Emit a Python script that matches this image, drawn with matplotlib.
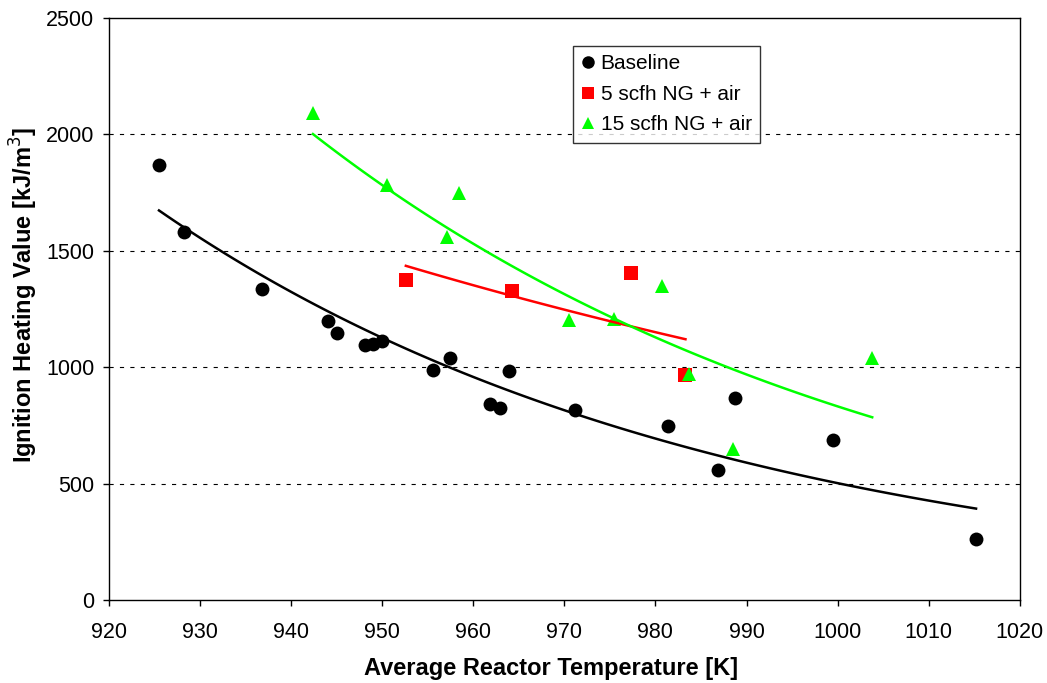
import numpy as np
import matplotlib
matplotlib.use('Agg')
import matplotlib.pyplot as plt

plt.rcParams['font.family'] = ['Liberation Sans', 'DejaVu Sans']
plt.rcParams['lines.scale_dashes'] = False

# Baseline runs
base_T = [925.5, 928.3, 936.8, 944.0, 945.0, 948.1, 949.0, 950.0, 955.6, 957.4,
          961.8, 962.9, 963.9, 971.2, 981.4, 986.9, 988.7, 999.5, 1015.2]
base_H = [1867, 1579, 1335, 1197, 1146, 1094, 1099, 1113, 990, 1040,
          840, 823, 986, 815, 748, 558, 867, 687, 262]

# 5 scfh natural gas + air
ng5_T = [952.6, 964.3, 977.3, 983.3]
ng5_H = [1373, 1328, 1403, 966]

# 15 scfh natural gas + air
ng15_T = [942.4, 950.5, 958.4, 957.1, 970.5, 975.4, 980.7, 983.7, 988.5, 1003.8]
ng15_H = [2093, 1781, 1750, 1559, 1202, 1209, 1348, 969, 648, 1040]


def exp_trend(T, H, n=100):
    # exponential trendline, least squares on log(H)
    T = np.asarray(T, float)
    b, ln_a = np.polyfit(T, np.log(H), 1)
    xs = np.linspace(T.min(), T.max(), n)
    return xs, np.exp(ln_a + b * xs)


fig = plt.figure(figsize=(10.47, 6.83), dpi=100)
ax = fig.add_axes([0.104, 0.1215, 0.870, 0.852])

series = [
    (base_T, base_H, 'o', 'black', 'Baseline'),
    (ng5_T, ng5_H, 's', '#ff0000', '5 scfh NG + air'),
    (ng15_T, ng15_H, '^', '#00ff00', '15 scfh NG + air'),
]

for T, H, mk, col, lab in series:
    ax.plot(T, H, linestyle='none', marker=mk, ms=10, color=col,
            markeredgewidth=0, label=lab, zorder=3)

for T, H, mk, col, lab in series:
    xs, ys = exp_trend(T, H)
    ax.plot(xs, ys, color=col, lw=1.8, zorder=4)

ax.set_xlim(920, 1020)
ax.set_ylim(0, 2500)
ax.set_xticks(np.arange(920, 1021, 10))
ax.set_yticks(np.arange(0, 2501, 500))

for yv in [500, 1000, 1500, 2000]:
    ax.axhline(yv, color='black', lw=0.8, linestyle=(0, (3, 4.5)), zorder=1)

ax.tick_params(direction='out', length=4.5, width=1, labelsize=15.5, pad=6)
ax.tick_params(axis='x', pad=11)
for sp in ax.spines.values():
    sp.set_linewidth(1.0)
    sp.set_color('black')

xl = ax.set_xlabel('Average Reactor Temperature [K]', fontsize=17, fontweight='bold')
yl = ax.set_ylabel('Ignition Heating Value [kJ/m$^3$]', fontsize=17, fontweight='bold')
xl.set_verticalalignment('center')
yl.set_verticalalignment('center')
ax.xaxis.set_label_coords(0.485, -0.117)
ax.yaxis.set_label_coords(-0.093, 0.524)

leg = ax.legend(loc='upper left', bbox_to_anchor=(0.509, 0.952), fontsize=15,
                frameon=True, fancybox=False, handlelength=0.7, handletextpad=0.25,
                borderpad=0.4, labelspacing=0.55, borderaxespad=0, markerscale=0.9)
leg.get_frame().set_edgecolor('black')
leg.get_frame().set_linewidth(1.0)

fig.savefig('out.png', dpi=100)
